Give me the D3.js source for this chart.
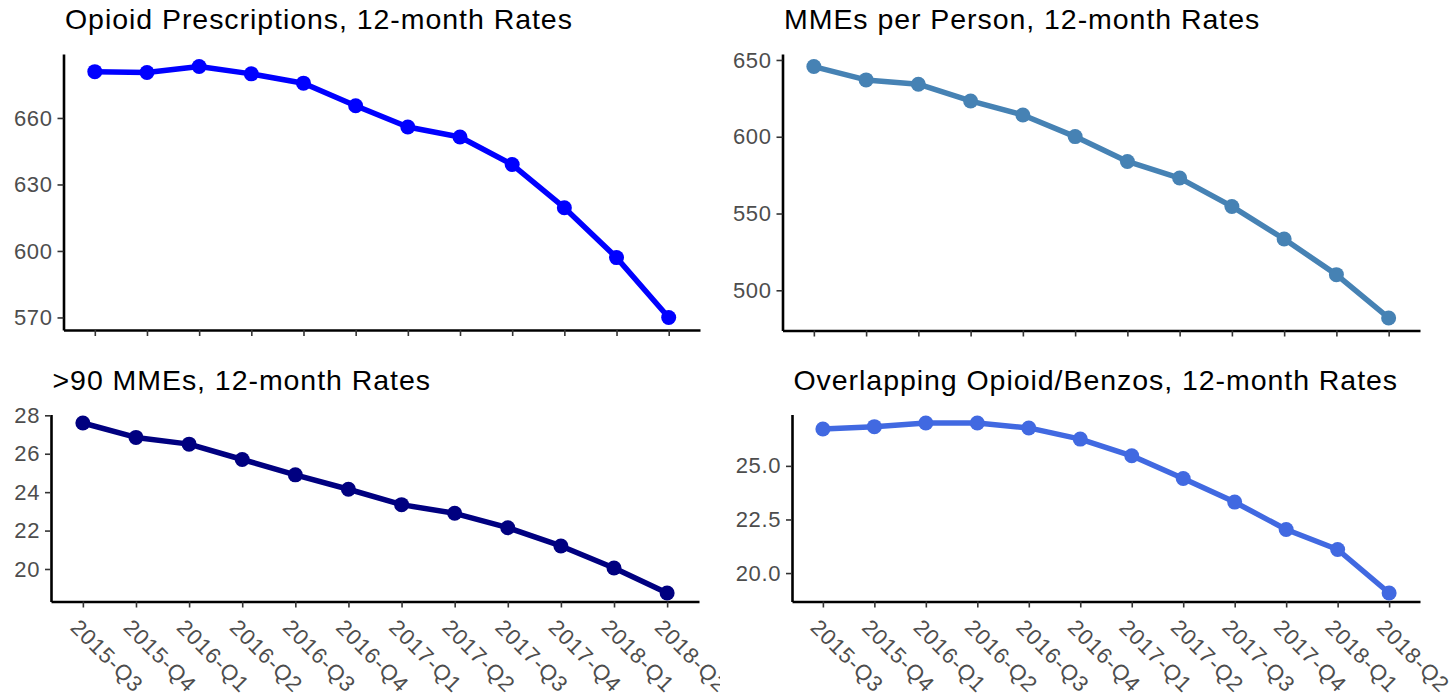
<!DOCTYPE html>
<html>
<head>
<meta charset="utf-8">
<script src="https://cdn.jsdelivr.net/npm/d3@7"></script>
<style>
  body { margin: 0; background: #fff; }
  svg { display: block; font-family: "Liberation Sans", Arial, sans-serif; }
</style>
</head>
<body>
<svg id="chart" width="1450" height="698"></svg>
<script>
// quarters on the x axis
var quarters = ["2015-Q3", "2015-Q4", "2016-Q1", "2016-Q2", "2016-Q3", "2016-Q4",
                "2017-Q1", "2017-Q2", "2017-Q3", "2017-Q4", "2018-Q1", "2018-Q2"];

// series values
var opioidRx     = [680.9, 680.5, 683.2, 679.9, 675.7, 665.5, 655.9, 651.4, 639.0, 619.5, 597.0, 570.0];
var mmePerPerson = [645.7, 637.0, 634.2, 623.3, 614.2, 600.1, 583.9, 573.1, 554.6, 533.4, 510.2, 482.0];
var over90Mme    = [27.6, 26.85, 26.5, 25.7, 24.9, 24.15, 23.35, 22.9, 22.15, 21.2, 20.05, 18.75];
var overlapBenzo = [26.72, 26.83, 27.0, 27.0, 26.77, 26.25, 25.47, 24.41, 23.31, 22.03, 21.1, 19.07];

// y tick labels
var opioidTicks  = [570, 600, 630, 660];
var mmeTicks     = [500, 550, 600, 650];
var over90Ticks  = [20, 22, 24, 26, 28];
var overlapTicks = [20, 22.5, 25];

var titles = ["Opioid Prescriptions, 12-month Rates", "MMEs per Person, 12-month Rates",
              ">90 MMEs, 12-month Rates", "Overlapping Opioid/Benzos, 12-month Rates"];

var panels = [
  {title: titles[0], values: opioidRx, ticks: opioidTicks, fmt: d3.format("d"), color: "#0000FF",
   left: 63.5, right: 700, top: 54, bottom: 330, clipX: 0, clipW: 720, labels: false},
  {title: titles[1], values: mmePerPerson, ticks: mmeTicks, fmt: d3.format("d"), color: "#4682B4",
   left: 782.5, right: 1420, top: 54, bottom: 330.5, clipX: 720, clipW: 730, labels: false},
  {title: titles[2], values: over90Mme, ticks: over90Ticks, fmt: d3.format("d"), color: "#000080",
   left: 51, right: 699, top: 414.5, bottom: 601.5, clipX: 0, clipW: 720, labels: true},
  {title: titles[3], values: overlapBenzo, ticks: overlapTicks, fmt: d3.format(".1f"), color: "#4169E1",
   left: 792, right: 1420, top: 414.5, bottom: 601.5, clipX: 720, clipW: 730, labels: true}
];

var svg = d3.select("#chart");
var defs = svg.append("defs");

panels.forEach(function(p, i) {
  defs.append("clipPath").attr("id", "clip" + i)
    .append("rect").attr("x", p.clipX).attr("y", 0).attr("width", p.clipW).attr("height", 698);

  var g = svg.append("g").attr("clip-path", "url(#clip" + i + ")");

  var x = d3.scalePoint().domain(quarters).range([p.left, p.right]).padding(0.6);
  var ext = d3.extent(p.values), pad = (ext[1] - ext[0]) * 0.05;
  var y = d3.scaleLinear().domain([ext[0] - pad, ext[1] + pad]).range([p.bottom, p.top]);

  // title
  g.append("text")
    .attr("x", p.left + 1.5)
    .attr("y", p.top - 25)
    .attr("font-size", 28.5)
    .attr("letter-spacing", 0.95)
    .attr("fill", "#000")
    .text(p.title);

  // y axis
  var ya = g.append("g").attr("transform", "translate(" + p.left + ",0)")
    .call(d3.axisLeft(y).tickValues(p.ticks).tickFormat(p.fmt).tickSize(6).tickSizeOuter(0).tickPadding(5));
  ya.select(".domain").attr("stroke", "#000").attr("stroke-width", 2.6);
  ya.selectAll(".tick line").attr("stroke", "#333").attr("stroke-width", 1.6);
  ya.selectAll(".tick text").attr("fill", "#4d4d4d").attr("font-size", 22)
    .attr("letter-spacing", 0.6)
    .attr("font-family", "Liberation Sans, Arial, sans-serif");

  // x axis
  var xa = g.append("g").attr("transform", "translate(0," + p.bottom + ")")
    .call(d3.axisBottom(x).tickSize(6).tickSizeOuter(0));
  xa.select(".domain").attr("stroke", "#000").attr("stroke-width", 2.6);
  xa.selectAll(".tick line").attr("stroke", "#333").attr("stroke-width", 1.6);
  if (p.labels) {
    xa.selectAll(".tick text")
      .attr("fill", "#4d4d4d").attr("font-size", 22)
      .attr("letter-spacing", 0.9)
      .attr("font-family", "Liberation Sans, Arial, sans-serif")
      .attr("text-anchor", "start")
      .attr("y", 0).attr("dy", "0.72em")
      .attr("transform", "translate(-3,16) rotate(45)");
  } else {
    xa.selectAll(".tick text").remove();
  }

  // line + points
  var line = d3.line()
    .x(function(d, j) { return x(quarters[j]); })
    .y(function(d) { return y(d); });

  g.append("path")
    .datum(p.values)
    .attr("d", line)
    .attr("fill", "none")
    .attr("stroke", p.color)
    .attr("stroke-width", 5.5)
    .attr("stroke-linejoin", "round")
    .attr("stroke-linecap", "round");

  g.selectAll("circle.pt")
    .data(p.values)
    .enter().append("circle")
    .attr("class", "pt")
    .attr("cx", function(d, j) { return x(quarters[j]); })
    .attr("cy", function(d) { return y(d); })
    .attr("r", 7.5)
    .attr("fill", p.color);
});
</script>
</body>
</html>
